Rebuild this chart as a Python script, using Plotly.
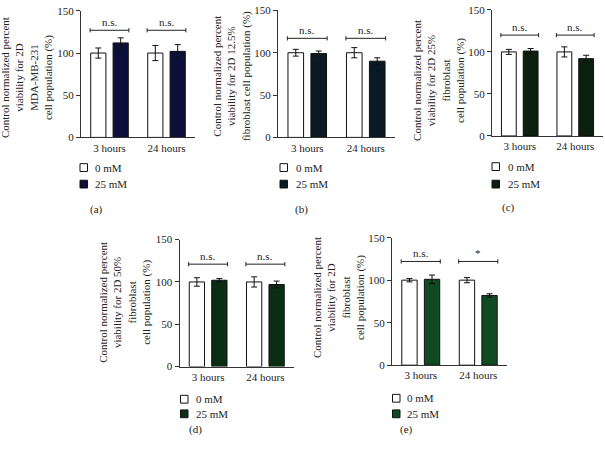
import plotly.graph_objects as go

W, H = 605, 450

categories = ["3 hours", "24 hours"]
group_names = ["0 mM", "25 mM"]
panel_labels = ["(a)", "(b)", "(c)", "(d)", "(e)"]
y_titles = [
    "Control normalized percent<br>viability for 2D<br>MDA-MB-231<br>cell population (%)",
    "Control normalized percent<br>viability for 2D 12.5%<br>fibroblast cell population (%)",
    "Control normalized percent<br>viability for 2D 25%<br>fibroblast<br>cell population (%)",
    "Control normalized percent<br>viability for 2D 50%<br>fibroblast<br>cell population (%)",
    "Control normalized percent<br>viability for 2D<br>fibroblast<br>cell population (%)",
]

# values (mean, error) per panel: control (0 mM) and treated (25 mM)
ctrl_a, ctrl_err_a = [100, 100], [6, 9]
treat_a, treat_err_a = [112, 102], [6, 8]
ctrl_b, ctrl_err_b = [100, 100], [4, 6]
treat_b, treat_err_b = [99, 90], [3, 4]
ctrl_c, ctrl_err_c = [100, 100], [3, 6]
treat_c, treat_err_c = [101, 92], [3, 4]
ctrl_d, ctrl_err_d = [100, 100], [5, 6]
treat_d, treat_err_d = [102, 97], [2, 4]
ctrl_e, ctrl_err_e = [100, 100], [2, 3]
treat_e, treat_err_e = [101, 82], [5, 2]

sig_a, bracket_a = ["n.s.", "n.s."], [127, 127]
sig_b, bracket_b = ["n.s.", "n.s."], [117, 117]
sig_c, bracket_c = ["n.s.", "n.s."], [120, 120]
sig_d, bracket_d = ["n.s.", "n.s."], [121, 121]
sig_e, bracket_e = ["n.s.", "*"], [122, 122]

treat_colors = ["#0c0f3a", "#0a1a22", "#0b200f", "#0a2e14", "#0f4a22"]

panels = [
    (ctrl_a, ctrl_err_a, treat_a, treat_err_a, sig_a, bracket_a),
    (ctrl_b, ctrl_err_b, treat_b, treat_err_b, sig_b, bracket_b),
    (ctrl_c, ctrl_err_c, treat_c, treat_err_c, sig_c, bracket_c),
    (ctrl_d, ctrl_err_d, treat_d, treat_err_d, sig_d, bracket_d),
    (ctrl_e, ctrl_err_e, treat_e, treat_err_e, sig_e, bracket_e),
]

# layout geometry in pixels: (x0, x1, ytop, ybottom)
boxes = [
    (81, 195, 5, 135),
    (278, 395, 4.5, 135),
    (492, 603, 4, 133.5),
    (179.5, 294, 240, 370.5),
    (392, 507, 238, 369),
]
title_pos = [(27, 74), (232, 72), (439, 77), (125, 305), (339, 300)]
legend_pos = [(80, 162, 17, 93), (280, 162, 17, 294), (492, 161, 18, 506),
              (180.5, 400, 15, 194), (392.5, 399, 16, 405)]
label_pos = [(96, 209), (301, 209), (508, 207), (195, 435), (406, 435)]

FONT = "Liberation Serif, Times New Roman, serif"
TXT = "#222222"

def px(x):
    return x / W

def py(y):
    return 1 - y / H

fig = go.Figure()
xs = list(range(len(categories)))

for i, (c, ce, t, te, sig, br) in enumerate(panels):
    n = "" if i == 0 else str(i + 1)
    xa, ya = "x" + n, "y" + n
    err_style = dict(type="data", visible=True, color="#111111", thickness=1, width=3)
    fig.add_trace(go.Bar(
        x=xs, y=c, name=group_names[0], xaxis=xa, yaxis=ya,
        marker=dict(color="white", line=dict(color="#111111", width=1)),
        error_y=dict(array=ce, **err_style), showlegend=False))
    fig.add_trace(go.Bar(
        x=xs, y=t, name=group_names[1], xaxis=xa, yaxis=ya,
        marker=dict(color=treat_colors[i], line=dict(color="#111111", width=1)),
        error_y=dict(array=te, **err_style), showlegend=False))

    x0, x1, yt, yb = boxes[i]
    common = dict(showline=True, linecolor="#333333", linewidth=1, showgrid=False,
                  zeroline=False, tickfont=dict(family=FONT, size=11, color=TXT))
    fig.update_layout(**{
        ("xaxis" + n): dict(domain=[px(x0), px(x1)], anchor=ya, range=[-0.5, 1.5],
                            tickmode="array", tickvals=xs, ticktext=categories,
                            ticks="", **common),
        ("yaxis" + n): dict(domain=[py(yb), py(yt)], anchor=xa, range=[0, 150],
                            tickvals=[0, 50, 100, 150], ticks="outside", ticklen=4,
                            tickcolor="#333333", **common),
    })

    # significance brackets
    for j, s in enumerate(sig):
        yb_ = br[j]
        for (ax0, ay0, ax1, ay1) in [(j - 0.34, yb_, j + 0.34, yb_),
                                     (j - 0.34, yb_ - 2.5, j - 0.34, yb_ + 2.5),
                                     (j + 0.34, yb_ - 2.5, j + 0.34, yb_ + 2.5)]:
            fig.add_shape(type="line", xref=xa, yref=ya, x0=ax0, y0=ay0, x1=ax1, y1=ay1,
                          line=dict(color="#222222", width=1))
        fig.add_annotation(x=j, y=yb_, xref=xa, yref=ya, text=s, showarrow=False,
                           yanchor="bottom", yshift=0,
                           font=dict(family=FONT, size=11, color=TXT))

    # y-axis title
    tx, ty = title_pos[i]
    fig.add_annotation(x=px(tx), y=py(ty), xref="paper", yref="paper", text=y_titles[i],
                       textangle=-90, showarrow=False, xanchor="center", yanchor="middle",
                       font=dict(family=FONT, size=11, color=TXT))

    # legend
    lx, ly, step, tx2 = legend_pos[i]
    for k, (name, col) in enumerate(zip(group_names, ["white", treat_colors[i]])):
        top = ly + k * step
        fig.add_shape(type="rect", xref="paper", yref="paper",
                      x0=px(lx), x1=px(lx + 7.5), y0=py(top + 8), y1=py(top),
                      fillcolor=col, line=dict(color="#111111", width=1))
        fig.add_annotation(x=px(tx2), y=py(top + 4), xref="paper", yref="paper",
                           text=name, showarrow=False, xanchor="left", yanchor="middle",
                           font=dict(family=FONT, size=11, color=TXT))

    # panel label
    lbx, lby = label_pos[i]
    fig.add_annotation(x=px(lbx), y=py(lby), xref="paper", yref="paper",
                       text=panel_labels[i], showarrow=False, xanchor="center",
                       yanchor="middle", font=dict(family=FONT, size=11, color=TXT))

fig.update_layout(
    width=W, height=H, margin=dict(l=0, r=0, t=0, b=0),
    paper_bgcolor="white", plot_bgcolor="white",
    barmode="group", bargap=0.215, bargroupgap=0.32,
    showlegend=False,
)

fig.write_html("out.html", config={"displayModeBar": False},
               post_script="document.body.style.margin='0px';document.body.style.overflow='hidden';")
